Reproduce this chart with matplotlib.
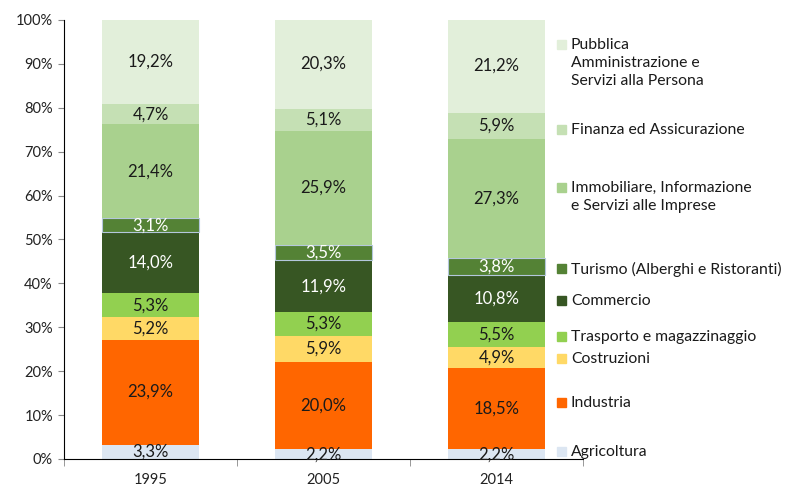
import matplotlib
matplotlib.use("Agg")
import matplotlib.pyplot as plt
import numpy as np

plt.rcParams['font.family'] = ['Lato', 'DejaVu Sans']

years = ['1995', '2005', '2014']
sectors = ['Agricoltura', 'Industria', 'Costruzioni', 'Trasporto e magazzinaggio',
           'Commercio', 'Turismo (Alberghi e Ristoranti)',
           'Immobiliare, Informazione\ne Servizi alle Imprese',
           'Finanza ed Assicurazione',
           'Pubblica\nAmministrazione e\nServizi alla Persona']
agricoltura = [3.3, 2.2, 2.2]
industria = [23.9, 20.0, 18.5]
costruzioni = [5.2, 5.9, 4.9]
trasporto = [5.3, 5.3, 5.5]
commercio = [14.0, 11.9, 10.8]
turismo = [3.1, 3.5, 3.8]
immobiliare = [21.4, 25.9, 27.3]
finanza = [4.7, 5.1, 5.9]
pubblica = [19.2, 20.3, 21.2]
series = [agricoltura, industria, costruzioni, trasporto, commercio, turismo,
          immobiliare, finanza, pubblica]

colors = ['#DCE6F2', '#FF6600', '#FFD966', '#92D050', '#375623', '#548235',
          '#A9D18E', '#C5E0B4', '#E2EFDA']
text_colors = ['#1a1a1a', '#1a1a1a', '#1a1a1a', '#1a1a1a', 'white', 'white',
               '#1a1a1a', '#1a1a1a', '#1a1a1a']
# legend vertical positions (pixel rows of the first text line)
legend_y = [451, 402, 358, 336, 300, 268, 187, 129, 44]

fig = plt.figure(figsize=(7.86, 4.88), dpi=100)
ax = fig.add_axes([64/786, 1-459/488, (583-64)/786, (459-20)/488])

x = np.arange(len(years))
bottom = np.zeros(len(years))
for i, vals in enumerate(series):
    vals = np.array(vals)
    ec = '#B4C7DC' if i == 5 else 'none'
    lw = 0.8 if i == 5 else 0
    ax.bar(x, vals, width=0.555, bottom=bottom, color=colors[i],
           edgecolor=ec, linewidth=lw, zorder=2)
    for j in range(len(years)):
        ax.text(x[j], bottom[j] + vals[j]/2, f"{vals[j]:.1f}%".replace('.', ','),
                ha='center', va='center', fontsize=12, color=text_colors[i],
                zorder=3)
    bottom += vals

ax.set_xlim(-0.5, 2.5)
ax.set_ylim(0, 100)
ax.set_yticks(np.arange(0, 101, 10))
ax.set_yticklabels([f"{v}%" for v in range(0, 101, 10)], fontsize=10.5, color='#222222')
ax.set_xticks(x)
ax.set_xticklabels(years, fontsize=10.5, color='#222222')
ax.set_xticks([-0.5, 0.5, 1.5, 2.5], minor=True)
ax.tick_params(axis='x', which='major', length=0, pad=10)
ax.tick_params(axis='x', which='minor', length=5, color='#888888', direction='out')
ax.tick_params(axis='y', length=4, color='#888888', direction='out', pad=4)
for s in ['top', 'right']:
    ax.spines[s].set_visible(False)
ax.spines['left'].set_color('black')
ax.spines['bottom'].set_color('black')

for i in range(len(sectors)):
    yy = legend_y[i]
    fig.patches.append(plt.Rectangle((557/786, 1-(yy+5)/488), 9/786, 9/488,
                                     transform=fig.transFigure, color=colors[i],
                                     figure=fig))
    fig.text(571/786, 1-(yy-6)/488, sectors[i], ha='left', va='top',
             fontsize=11.3, color='#1a1a1a', linespacing=1.38)

fig.savefig('out.png', dpi=100)
